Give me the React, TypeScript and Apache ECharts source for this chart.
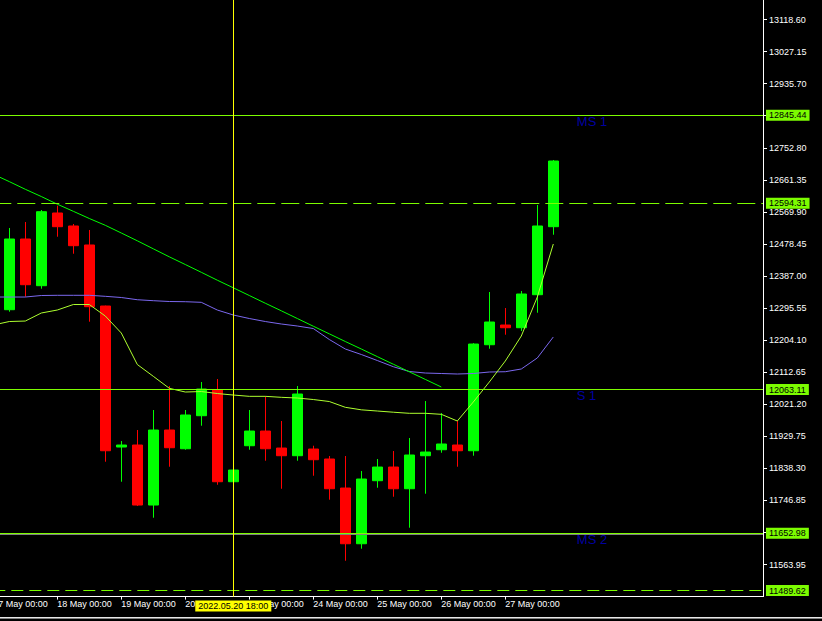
import React, { useEffect, useRef } from "react";
import * as echarts from "echarts";

// ---- candle data (bar index 0..34) ----
const opens = [12290.9, 12492.6, 12359.4, 12566.8, 12529.7, 12475.5, 12301.4, 11899.2, 11904.9, 11733.7, 11947.7, 11894.3, 11988.5, 12061.8, 11800.2, 11902.9, 11944.8, 11896.3, 11874.4, 11893.5, 11865.0, 11782.2, 11623.3, 11803.1, 11842.1, 11780.2, 11874.4, 11891.5, 11904.9, 11888.6, 12191.0, 12247.2, 12239.5, 12333.7, 12527.7];
const closes = [12492.6, 12362.2, 12570.5, 12527.7, 12473.5, 12299.5, 11888.6, 11904.9, 11733.7, 11947.7, 11897.2, 11990.5, 12064.7, 11800.2, 11833.6, 11944.8, 11894.3, 11874.4, 12050.4, 11863.0, 11780.2, 11623.3, 11807.9, 11842.1, 11780.2, 11876.4, 11884.9, 11907.8, 11888.6, 12193.0, 12255.8, 12239.5, 12335.7, 12529.7, 12715.1];
const lows = [12285.2, 12328.0, 12350.8, 12499.1, 12450.6, 12256.7, 11857.3, 11800.2, 11730.9, 11697.5, 11843.0, 11891.5, 11960.0, 11791.6, 11798.0, 11891.5, 11860.1, 11780.2, 11860.1, 11817.3, 11748.9, 11574.8, 11609.1, 11783.1, 11757.4, 11669.0, 11766.0, 11882.9, 11843.0, 11874.4, 12179.6, 12219.6, 12230.1, 12282.3, 12504.8];
const highs = [12524.0, 12541.1, 12575.3, 12587.6, 12535.4, 12518.3, 12302.5, 11916.3, 11947.7, 12004.8, 12073.2, 12004.8, 12084.6, 12093.2, 11835.5, 12004.8, 12043.8, 11973.4, 12073.2, 11902.9, 11873.5, 11873.5, 11830.7, 11865.0, 11887.8, 11924.9, 12030.4, 11996.2, 11973.4, 12195.5, 12341.4, 12295.7, 12344.2, 12589.6, 12718.0];

// ---- moving averages (start at bar index -1) ----
const maSlow = [12677.4, 12656.3, 12634.4, 12613.8, 12591.9, 12571.6, 12551.1, 12531.7, 12509.7, 12487.5, 12464.6, 12441.8, 12419.8, 12397.6, 12375.1, 12353.4, 12331.4, 12309.4, 12287.8, 12265.8, 12243.8, 12222.1, 12200.2, 12178.8, 12157.1, 12135.4, 12113.7, 12092.1, 12070.4];
const maBlue = [12327.1, 12327.1, 12327.1, 12331.4, 12332.0, 12332.0, 12332.0, 12329.1, 12325.7, 12319.4, 12316.6, 12314.3, 12313.7, 12312.0, 12290.0, 12275.8, 12265.8, 12257.2, 12250.1, 12244.4, 12237.2, 12205.9, 12178.8, 12163.1, 12146.0, 12128.3, 12114.6, 12110.3, 12108.9, 12107.5, 12108.9, 12113.2, 12114.0, 12121.8, 12153.2, 12213.1];
const maFast = [12247.2, 12257.2, 12258.6, 12281.5, 12290.0, 12305.7, 12305.7, 12272.9, 12224.4, 12134.6, 12100.9, 12066.7, 12056.1, 12057.5, 12051.8, 12047.5, 12043.8, 12043.8, 12041.0, 12039.0, 12034.7, 12029.0, 12012.5, 12005.3, 12001.9, 11998.5, 11995.4, 11995.4, 11992.5, 11973.4, 12027.6, 12084.6, 12144.5, 12215.9, 12327.1, 12478.3];

// ---- axes ----
const timeTickIdx = [-1, 3, 7, 11, 15, 19, 23, 27, 31];
const timeTickLabels = ["17 May 00:00", "18 May 00:00", "19 May 00:00", "20 May 00:00", "23 May 00:00", "24 May 00:00", "25 May 00:00", "26 May 00:00", "27 May 00:00"];
const priceTicks = [11563.95, 11655.40, 11746.85, 11838.30, 11929.75, 12021.20, 12112.65, 12204.10, 12295.55, 12387.00, 12478.45, 12569.90, 12661.35, 12752.80, 12844.25, 12935.70, 13027.15, 13118.60];

// ---- horizontal levels ----
const levelValues = [12845.44, 12594.31, 12063.11, 11652.98, 11489.62];
const levelDashed = [false, true, false, false, true];
const levelDash = [[0], [18, 6], [0], [0], [12, 6]];
const levelTextValues = [12845.44, 12063.11, 11652.98];
const levelTexts = ["MS 1", "S 1", "MS 2"];
const levelTextIdx = 35.5;
const greyLevel = 11650.0;

const crosshairIdx = 14;
const crosshairLabel = "2022.05.20 18:00";

const FONT = "'Liberation Sans', Arial, sans-serif";
const LEVEL_GREEN = "#7cfc00";

export default function App() {
  const ref = useRef<HTMLDivElement>(null);
  useEffect(() => {
    const chart = echarts.init(ref.current!, null, { renderer: "svg" });
    const candles = opens.map((o, i) => [i, o, closes[i], lows[i], highs[i]]);
    const toLine = (arr: number[]) => arr.map((v, k) => [k - 1, v]);
    const labelMap = new Map<number, string>();
    timeTickIdx.forEach((t, i) => labelMap.set(t, timeTickLabels[i]));

    const markLineData: any[] = levelValues.map((v, i) => ({
      yAxis: v,
      lineStyle: {
        color: LEVEL_GREEN,
        width: 1,
        type: levelDashed[i] ? levelDash[i] : "solid",
      },
      label: {
        show: true,
        position: "end",
        distance: 3,
        formatter: v.toFixed(2),
        color: "#000",
        backgroundColor: LEVEL_GREEN,
        padding: [1, 3, 1, 3],
        fontSize: 9,
        lineHeight: 9,
        fontFamily: FONT,
      },
    }));
    markLineData.push({
      yAxis: greyLevel,
      lineStyle: { color: "#808080", width: 1, type: "solid" },
      label: { show: false },
    });
    markLineData.push({
      xAxis: crosshairIdx,
      lineStyle: { color: "#ffff00", width: 1, type: "solid" },
      label: {
        show: true,
        position: "start",
        distance: 4,
        formatter: crosshairLabel,
        color: "#000",
        backgroundColor: "#ffff00",
        padding: [1, 3, 1, 3],
        fontSize: 9,
        lineHeight: 9,
        fontFamily: FONT,
      },
    });

    chart.setOption({
      animation: false,
      backgroundColor: "#000000",
      grid: {
        left: -6.7,
        right: 59,
        top: 0,
        bottom: 24.4,
        containLabel: false,
        outerBoundsMode: "none",
      },
      xAxis: {
        type: "value",
        min: -1,
        max: 47.106,
        axisLine: { show: true, onZero: false, lineStyle: { color: "#ffffff", width: 1 } },
        axisTick: {
          show: true,
          length: 3,
          inside: false,
          lineStyle: { color: "#ffffff" },
          customValues: timeTickIdx,
        },
        axisLabel: {
          show: true,
          color: "#ffffff",
          fontSize: 9,
          fontFamily: FONT,
          align: "left",
          margin: 3,
          customValues: timeTickIdx,
          formatter: (v: number) => labelMap.get(Math.round(v)) ?? "",
        },
        splitLine: { show: false },
      },
      yAxis: {
        type: "value",
        position: "right",
        min: 11472.5,
        max: 13174.4,
        axisLine: { show: true, onZero: false, lineStyle: { color: "#ffffff", width: 1 } },
        axisTick: {
          show: true,
          length: 4,
          inside: false,
          lineStyle: { color: "#ffffff" },
          customValues: priceTicks,
        },
        axisLabel: {
          show: true,
          color: "#ffffff",
          fontSize: 9,
          fontFamily: FONT,
          margin: 6,
          customValues: priceTicks,
          formatter: (v: number) => v.toFixed(2),
        },
        splitLine: { show: false },
      },
      graphic: [
        { type: "line", shape: { x1: 0, y1: 617.5, x2: 822, y2: 617.5 }, style: { stroke: "#e8e8e8", lineWidth: 1 } },
        { type: "line", shape: { x1: 0, y1: 618.5, x2: 822, y2: 618.5 }, style: { stroke: "#808080", lineWidth: 1 } },
      ],
      series: [
        {
          type: "candlestick",
          data: candles,
          barWidth: 10,
          encode: { x: 0, y: [1, 2, 3, 4] },
          itemStyle: {
            color: "#00ff00",
            color0: "#ff0000",
            borderColor: "#00ff00",
            borderColor0: "#ff0000",
            borderWidth: 1,
          },
          z: 2,
        },
        {
          type: "line",
          data: toLine(maBlue),
          showSymbol: false,
          symbol: "none",
          lineStyle: { color: "#7b68ee", width: 1 },
          z: 3,
        },
        {
          type: "line",
          data: toLine(maSlow),
          showSymbol: false,
          symbol: "none",
          lineStyle: { color: "#00ff00", width: 1 },
          z: 3,
        },
        {
          type: "line",
          data: toLine(maFast),
          showSymbol: false,
          symbol: "none",
          lineStyle: { color: "#adff2f", width: 1 },
          z: 3,
        },
        {
          type: "scatter",
          data: levelTextValues.map((v, i) => ({ value: [levelTextIdx, v], name: levelTexts[i] })),
          symbolSize: 1,
          itemStyle: { color: "rgba(0,0,0,0)" },
          label: {
            show: true,
            position: [0, 0],
            formatter: "{b}",
            color: "#0000cd",
            fontSize: 13,
            fontFamily: FONT,
          },
          silent: true,
          z: 4,
        },
        {
          type: "line",
          data: [],
          silent: true,
          symbol: "none",
          markLine: {
            silent: true,
            symbol: ["none", "none"],
            data: markLineData,
          },
          z: 5,
        },
      ],
    });
    return () => chart.dispose();
  }, []);
  return (
    <div
      ref={ref}
      style={{ position: "absolute", left: 0, top: 0, width: 822, height: 621, background: "#000" }}
    />
  );
}
